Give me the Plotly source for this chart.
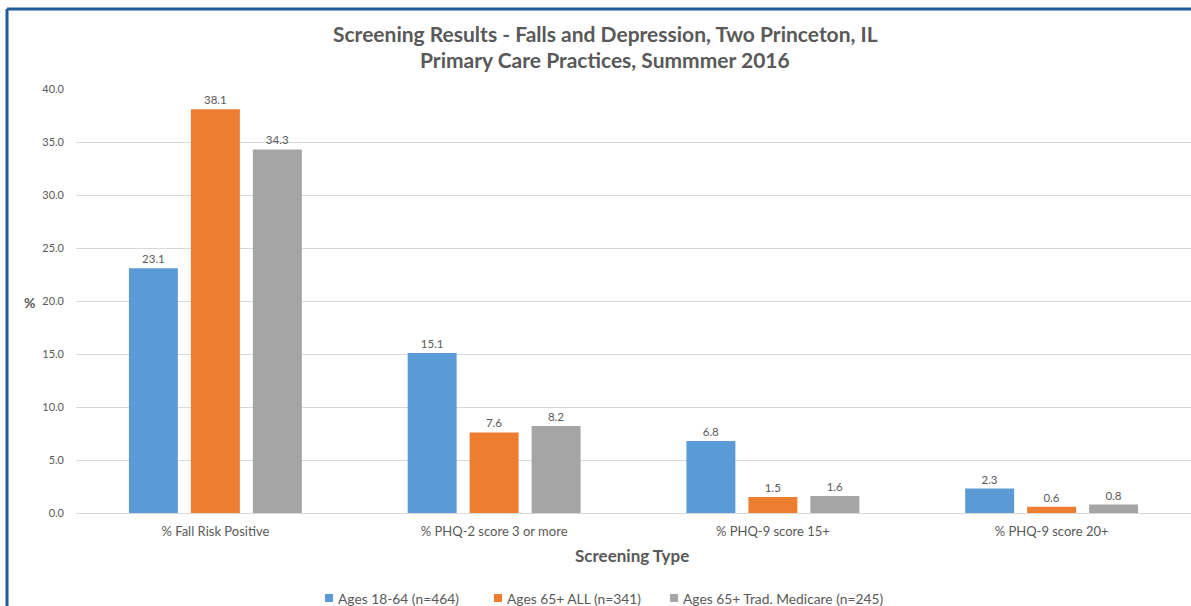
import plotly.graph_objects as go

categories = ["% Fall Risk Positive", "% PHQ-2 score 3 or more", "% PHQ-9 score 15+", "% PHQ-9 score 20+"]
series_names = ["Ages 18-64 (n=464)", "Ages 65+ ALL (n=341)", "Ages 65+ Trad. Medicare (n=245)"]
ages_18_64 = [23.1, 15.1, 6.8, 2.3]
ages_65_all = [38.1, 7.6, 1.5, 0.6]
ages_65_trad = [34.3, 8.2, 1.6, 0.8]
colors = ["#5B9BD5", "#ED7D31", "#A5A5A5"]

FONT = "Lato"
GREY = "#595959"

W, H = 1191, 606
L, R, T, B = 76, 0, 89, 93
pw, ph = W - L - R, H - T - B


def px_x(x):
    return (x - L) / pw


def px_y(y):
    return (H - B - y) / ph


fig = go.Figure()
for name, vals, col in zip(series_names, [ages_18_64, ages_65_all, ages_65_trad], colors):
    fig.add_trace(go.Bar(
        x=categories, y=vals, name=name, marker_color=col, marker_line_width=0,
        text=vals, texttemplate="%{y:.1f}", textposition="outside",
        textfont=dict(family=FONT, size=11.5, color=GREY), cliponaxis=False,
    ))

fig.update_layout(
    width=W, height=H,
    margin=dict(l=L, r=R, t=T, b=B, autoexpand=False),
    paper_bgcolor="white", plot_bgcolor="white",
    barmode="group", bargap=0.333, bargroupgap=0.21,
    font=dict(family=FONT, color=GREY),
    showlegend=False,
    xaxis=dict(showgrid=False, showline=True, linecolor="#D9D9D9", linewidth=1,
               tickfont=dict(family=FONT, size=13, color=GREY), ticks="", ticklabelstandoff=6),
    yaxis=dict(range=[0, 40], dtick=5, tickformat=".1f", showgrid=True, gridcolor="#D9D9D9",
               gridwidth=1, zeroline=False, showline=False, ticks="",
               tickfont=dict(family=FONT, size=11, color=GREY), ticklabelstandoff=11),
)

texts = [
    ("<b>Screening Results - Falls and Depression, Two Princeton, IL</b>", 605, 33, 21),
    ("<b>Primary Care Practices, Summmer 2016</b>", 605, 59, 21),
    ("<b>Screening Type</b>", 632, 555, 17),
    ("<b>%</b>", 29, 302, 14),
]
for txt, x, y, sz in texts:
    fig.add_annotation(xref="paper", yref="paper", showarrow=False, xanchor="center", yanchor="middle",
                       text=txt, x=px_x(x), y=px_y(y), font=dict(family=FONT, size=sz, color=GREY))

# legend (manual, to match the small square swatches of the reference)
legend_x = [325, 494, 670]
legend_y = 598
for name, col, lx in zip(series_names, colors, legend_x):
    fig.add_shape(type="rect", xref="paper", yref="paper",
                  x0=px_x(lx), x1=px_x(lx + 8), y0=px_y(legend_y - 4), y1=px_y(legend_y + 4),
                  fillcolor=col, line_width=0)
    fig.add_annotation(xref="paper", yref="paper", showarrow=False, xanchor="left", yanchor="middle",
                       text=name, x=px_x(lx + 11), y=px_y(legend_y),
                       font=dict(family=FONT, size=13.8, color=GREY))

# blue frame (top and left edges)
bx, by = px_x(7), px_y(9)
fig.add_shape(type="line", xref="paper", yref="paper", x0=bx, x1=bx, y0=by, y1=px_y(610),
              line=dict(color="#1F5C99", width=3))
fig.add_shape(type="line", xref="paper", yref="paper", x0=bx, x1=px_x(1195), y0=by, y1=by,
              line=dict(color="#1F5C99", width=3))

fig.write_html("out.html", config={"displayModeBar": False},
               post_script="document.body.style.margin='0';document.body.style.overflow='hidden';")
